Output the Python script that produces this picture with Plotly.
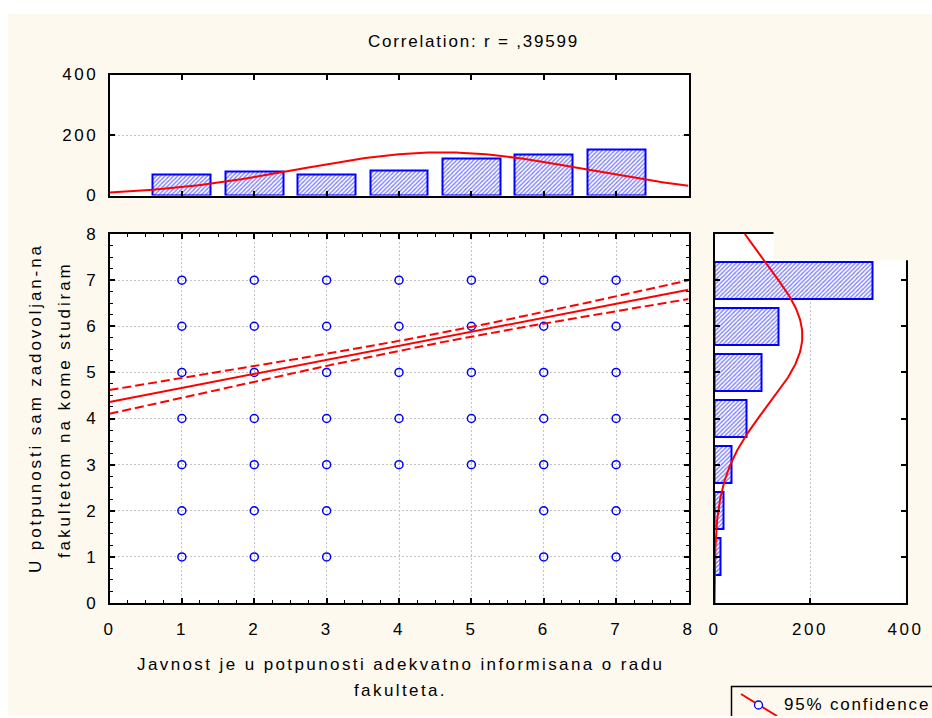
import numpy as np
import plotly.graph_objects as go

# ---------------------------------------------------------------- data
x_scores = [1, 2, 3, 4, 5, 6, 7]
x_counts = [68, 80, 68, 82, 123, 136, 152]      # marginal counts, horizontal variable

y_scores = [1, 2, 3, 4, 5, 6, 7]
y_counts = [12, 19, 36, 66, 98, 135, 331]       # marginal counts, vertical variable

# observed (x, y) answer combinations
scatter_x = [1, 2, 3, 4, 5, 6, 7,
             1, 2, 3, 4, 5, 6, 7,
             1, 2, 3, 4, 5, 6, 7,
             1, 2, 3, 4, 5, 6, 7,
             1, 2, 3, 4, 5, 6, 7,
             1, 2, 3, 6, 7,
             1, 2, 3, 6, 7]
scatter_y = [7, 7, 7, 7, 7, 7, 7,
             6, 6, 6, 6, 6, 6, 6,
             5, 5, 5, 5, 5, 5, 5,
             4, 4, 4, 4, 4, 4, 4,
             3, 3, 3, 3, 3, 3, 3,
             2, 2, 2, 2, 2,
             1, 1, 1, 1, 1]

r_value = 0.39599
fit_intercept = 4.36
fit_slope = 0.304

scatter_ticks = [0, 1, 2, 3, 4, 5, 6, 7, 8]
count_ticks = [0, 200, 400]

title_text = "Correlation: r = ,39599"
x_title_lines = ["Javnost je u potpunosti adekvatno informisana o radu", "fakulteta."]
y_title_lines = ["U potpunosti sam zadovoljan-na", "fakultetom na kome studiram"]
legend_text = "95% confidence"

# ---------------------------------------------------------------- derived fits
def moments(vals, counts):
    v = np.asarray(vals, float)
    c = np.asarray(counts, float)
    n = c.sum()
    m = (v * c).sum() / n
    var = ((v - m) ** 2 * c).sum() / n
    return n, m, np.sqrt(var)

nx, mx, sx = moments(x_scores, x_counts)
ny, my, sy = moments(y_scores, y_counts)

def normal_curve(grid, n, m, s):
    return n * np.exp(-0.5 * ((grid - m) / s) ** 2) / (s * np.sqrt(2 * np.pi))

grid = np.linspace(0, 8, 241)
fit_line = fit_intercept + fit_slope * grid
resid_sd = sy * np.sqrt(1 - r_value ** 2) * np.sqrt((nx - 1) / (nx - 2))
sxx = nx * sx ** 2
half_width = 1.96 * resid_sd * np.sqrt(1 / nx + (grid - mx) ** 2 / sxx)

# ---------------------------------------------------------------- page geometry
# positions below are given in window pixels and converted to paper fractions
FW, FH = 932, 716
CREAM = "#FEF9EE"
FONT = "Liberation Sans, Arial, sans-serif"
BLUE = "#0000FF"
RED = "#FF0000"


def fx(p):
    return p / FW


def fy(p):
    return 1 - p / FH


def spaced(text, px):
    return f'<span style="letter-spacing:{px}px">{text}</span>'


bar_marker = dict(
    color="white",
    line=dict(color=BLUE, width=2),
    pattern=dict(shape="/", fgcolor=BLUE, bgcolor="white", size=3, solidity=0.45),
)

fig = go.Figure()

# scatter panel
fig.add_trace(go.Scatter(
    x=scatter_x, y=scatter_y, mode="markers", xaxis="x", yaxis="y",
    marker=dict(symbol="circle-open", size=8, color=BLUE, line=dict(width=1.5)),
    hoverinfo="x+y"))
fig.add_trace(go.Scatter(
    x=grid, y=fit_line + half_width, mode="lines", xaxis="x", yaxis="y",
    line=dict(color=RED, width=2, dash="9px,4px")))
fig.add_trace(go.Scatter(
    x=grid, y=fit_line - half_width, mode="lines", xaxis="x", yaxis="y",
    line=dict(color=RED, width=2, dash="9px,4px")))
fig.add_trace(go.Scatter(
    x=grid, y=fit_line, mode="lines", xaxis="x", yaxis="y",
    line=dict(color=RED, width=2)))

# top histogram
fig.add_trace(go.Bar(x=x_scores, y=x_counts, width=0.8, xaxis="x2", yaxis="y2",
                     marker=bar_marker))
fig.add_trace(go.Scatter(x=grid, y=normal_curve(grid, nx, mx, sx), mode="lines",
                         xaxis="x2", yaxis="y2", line=dict(color=RED, width=2)))

# right histogram
fig.add_trace(go.Bar(y=y_scores, x=y_counts, width=0.8, orientation="h",
                     xaxis="x3", yaxis="y3", marker=bar_marker))
fig.add_trace(go.Scatter(x=normal_curve(grid, ny, my, sy), y=grid, mode="lines",
                         xaxis="x3", yaxis="y3", line=dict(color=RED, width=2)))

tick_font = dict(family=FONT, size=17, color="#000000")
frame = dict(showline=True, linewidth=2, linecolor="#000000", mirror="ticks",
             ticks="inside", ticklen=5, tickwidth=1.5, tickcolor="#000000",
             zeroline=False, tickfont=tick_font)
grid_style = dict(showgrid=True, gridcolor="#C4C4C4", gridwidth=1, griddash="2px,2px")
minor = dict(dtick=0.25, ticks="inside", ticklen=3, tickwidth=1,
             tickcolor="#000000", showgrid=False)

sc_x_dom = [fx(109.5), fx(688.5)]
sc_y_dom = [fy(603), fy(234)]

fig.update_layout(
    width=FW, height=FH,
    margin=dict(l=0, r=0, t=0, b=0, autoexpand=False),
    paper_bgcolor=CREAM, plot_bgcolor="white",
    showlegend=False, bargap=0,
    font=dict(family=FONT, color="#000000"),
    xaxis=dict(domain=sc_x_dom, anchor="y", range=[0, 8],
               tickvals=scatter_ticks, ticktext=[spaced(t, 2.5) for t in scatter_ticks],
               ticklabelstandoff=10, minor=minor, **frame, **grid_style),
    yaxis=dict(domain=sc_y_dom, anchor="x", range=[0, 8],
               tickvals=scatter_ticks, ticktext=[spaced(t, 2.5) for t in scatter_ticks],
               ticklabelstandoff=6, minor=minor, **frame, **grid_style),
    xaxis2=dict(domain=sc_x_dom, anchor="y2", range=[0, 8],
                tickvals=scatter_ticks, showticklabels=False, showgrid=False, **frame),
    yaxis2=dict(domain=[fy(195.5), fy(74.5)], anchor="x2", range=[0, 400],
                tickvals=count_ticks, ticktext=[spaced(t, 2.5) for t in count_ticks],
                ticklabelstandoff=6, **frame, **grid_style),
    xaxis3=dict(domain=[fx(714.5), fx(905.5)], anchor="y3", range=[0, 400],
                tickvals=count_ticks, ticktext=[spaced(t, 2.5) for t in count_ticks],
                ticklabelstandoff=10, **frame, **grid_style),
    yaxis3=dict(domain=sc_y_dom, anchor="x3", range=[0, 8],
                tickvals=scatter_ticks, showticklabels=False, showgrid=False, **frame),
)

shapes = [
    # white strips along the top and left of the cream panel
    dict(type="rect", xref="paper", yref="paper", x0=-0.1, x1=1.1, y0=fy(14), y1=1.1,
         fillcolor="white", line_width=0, layer="below"),
    dict(type="rect", xref="paper", yref="paper", x0=-0.1, x1=fx(8), y0=-0.1, y1=1.1,
         fillcolor="white", line_width=0, layer="below"),
    # clipped corner of the right histogram panel
    dict(type="rect", xref="paper", yref="paper", x0=fx(773.5), x1=fx(940),
         y0=fy(260.3), y1=fy(228), fillcolor=CREAM, line_width=0, layer="above"),
    # legend box
    dict(type="rect", xref="paper", yref="paper", x0=fx(731.5), x1=fx(950),
         y0=fy(735), y1=fy(686.5), fillcolor=CREAM,
         line=dict(color="#000000", width=1.5), layer="above"),
    dict(type="line", xref="paper", yref="paper", x0=fx(741), y0=fy(694),
         x1=fx(777), y1=fy(716), line=dict(color=RED, width=2), layer="above"),
    dict(type="circle", xref="paper", yref="paper", x0=fx(754.5), x1=fx(762.5),
         y0=fy(709), y1=fy(701), fillcolor=CREAM, line=dict(color=BLUE, width=1.3),
         layer="above"),
]
fig.update_layout(shapes=shapes)

ann = [
    dict(text=spaced(title_text, 1.8), x=fx(473), y=fy(42), font=dict(size=17)),
    dict(text=spaced(x_title_lines[0], 2.4), x=fx(400), y=fy(664), font=dict(size=17)),
    dict(text=spaced(x_title_lines[1], 2.4), x=fx(400), y=fy(690), font=dict(size=17)),
    dict(text=spaced(y_title_lines[0], 2.9), x=fx(36), y=fy(408), textangle=-90,
         font=dict(size=17)),
    dict(text=spaced(y_title_lines[1], 2.9), x=fx(64), y=fy(410), textangle=-90,
         font=dict(size=17)),
    dict(text=spaced(legend_text, 1.8), x=fx(782), y=fy(704), xanchor="left",
         font=dict(size=17)),
]
for a in ann:
    a.setdefault("xanchor", "center")
    a.update(xref="paper", yref="paper", yanchor="middle", showarrow=False)
    a["font"].update(family=FONT, color="#000000")
fig.update_layout(annotations=ann)

fig.write_html("out.html")
